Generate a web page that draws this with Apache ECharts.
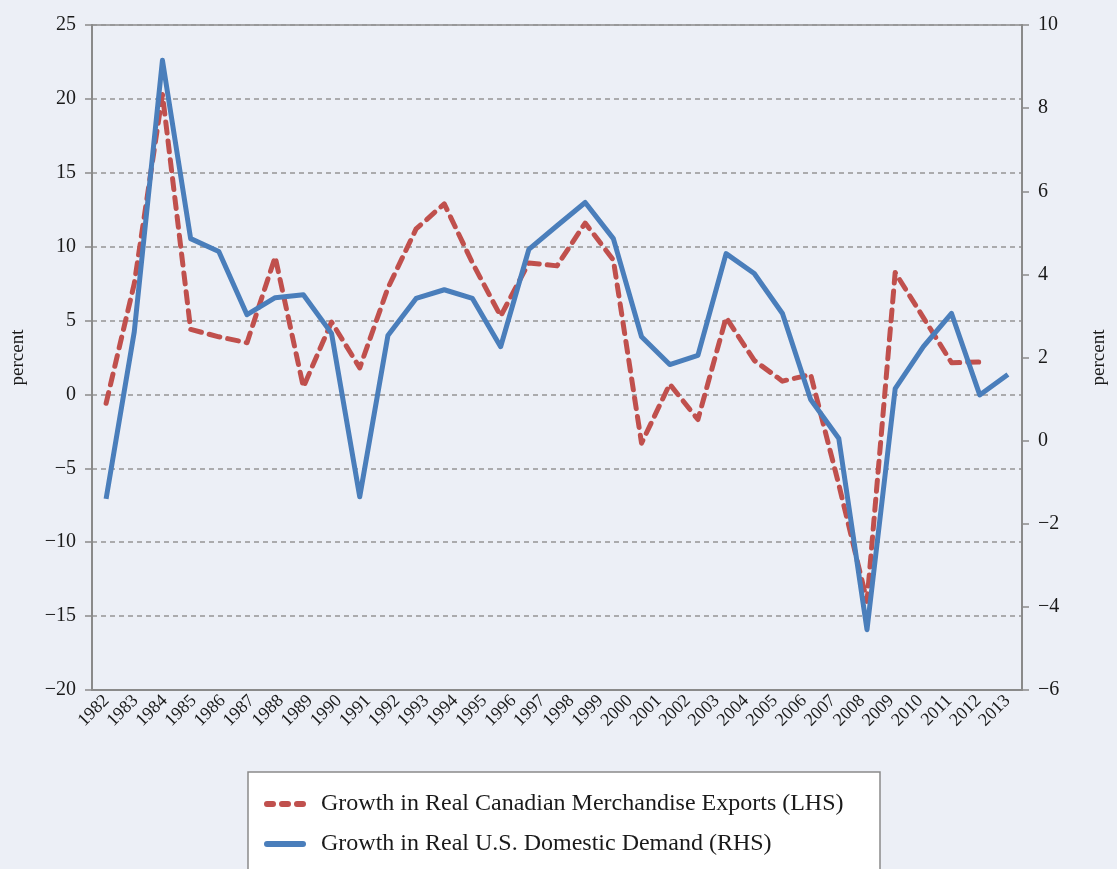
<!DOCTYPE html>
<html lang="en">
<head>
  <meta charset="UTF-8">
  <title>Canadian exports vs U.S. demand</title>
  <style>
    html, body { margin: 0; padding: 0; background: #ECEFF6; }
  </style>
</head>
<body>
  <div id="main" style="width: 1117px; height: 869px"></div>
  <script src="https://cdn.jsdelivr.net/npm/echarts@6/dist/echarts.min.js"></script>
  <script>
    // year labels shown along the bottom
    const years = ['1982', '1983', '1984', '1985', '1986', '1987', '1988', '1989', '1990', '1991',
      '1992', '1993', '1994', '1995', '1996', '1997', '1998', '1999', '2000', '2001', '2002',
      '2003', '2004', '2005', '2006', '2007', '2008', '2009', '2010', '2011', '2012', '2013']

    // the lines in the picture carry 33 evenly spaced points across the same frame
    const slots = ['s01', 's02', 's03', 's04', 's05', 's06', 's07', 's08', 's09', 's10', 's11',
      's12', 's13', 's14', 's15', 's16', 's17', 's18', 's19', 's20', 's21', 's22', 's23', 's24',
      's25', 's26', 's27', 's28', 's29', 's30', 's31', 's32', 's33']

    // LHS, percent
    const canExports = [-0.6, 7.5, 20.3, 4.4, 3.9, 3.5, 9.3, 0.5, 4.9, 1.8, 7.2, 11.2, 12.9,
      8.9, 5.3, 8.9, 8.7, 11.6, 9.1, -3.3, 0.7, -1.7, 5.2, 2.3, 0.9, 1.35, -6.1, -14.0,
      8.25, 5.2, 2.15, 2.2, null]

    // RHS, percent
    const usDemand = [-1.4, 2.62, 9.15, 4.86, 4.55, 3.03, 3.44, 3.51, 2.58, -1.35, 2.53, 3.42,
      3.63, 3.42, 2.26, 4.6, 5.17, 5.73, 4.86, 2.5, 1.83, 2.05, 4.5, 4.02, 3.06, 0.99, 0.05,
      -4.55, 1.25, 2.26, 3.06, 1.1, 1.59]

    const seriesNames = ['Growth in Real Canadian Merchandise Exports (LHS)',
      'Growth in Real U.S. Domestic Demand (RHS)']

    const RED = '#C0504D'
    const BLUE = '#4A7EBB'
    const font = '"Liberation Serif", "DejaVu Serif", serif'
    const minus = v => String(v).replace('-', '\u2212')

    // legend keys: three rounded dashes / one solid bar
    const dashIcon = 'path://M3,0H9A3,3 0 0 1 9,6H3A3,3 0 0 1 3,0Z' +
      'M18,0H24A3,3 0 0 1 24,6H18A3,3 0 0 1 18,0Z' +
      'M33,0H39A3,3 0 0 1 39,6H33A3,3 0 0 1 33,0Z'
    const barIcon = 'path://M3,0H39A3,3 0 0 1 39,6H3A3,3 0 0 1 3,0Z'

    const chart = echarts.init(document.getElementById('main'))
    chart.setOption({
      backgroundColor: '#ECEFF6',
      animation: false,
      textStyle: { fontFamily: font, color: '#1a1a1a' },
      grid: {
        left: 92, right: 94, top: 25, bottom: 179,
        show: true, borderColor: '#8a8a8a', borderWidth: 1.5
      },
      graphic: [{
        type: 'rect',
        z: 1,
        shape: { x: 248, y: 772, width: 632, height: 120 },
        style: { fill: '#ffffff', stroke: '#8a8a8a', lineWidth: 1.5 }
      }],
      legend: {
        z: 5,
        orient: 'vertical',
        left: 264, top: 790,
        height: 150,
        padding: 0,
        itemWidth: 42, itemHeight: 6, itemGap: 12,
        textStyle: {
          fontFamily: font, fontSize: 24, lineHeight: 28, color: '#1a1a1a',
          padding: [0, 0, 0, 10]
        },
        data: [
          { name: seriesNames[0], icon: dashIcon, itemStyle: { color: RED } },
          { name: seriesNames[1], icon: barIcon, itemStyle: { color: BLUE } }
        ]
      },
      xAxis: [{
        type: 'category',
        data: years,
        boundaryGap: true,
        axisLine: { onZero: false, lineStyle: { color: '#8a8a8a', width: 2 } },
        axisTick: { interval: 0, length: 8, lineStyle: { color: '#8a8a8a', width: 1.5 } },
        axisLabel: { interval: 0, rotate: 45, fontSize: 18, color: '#1a1a1a', margin: 8 }
      }, {
        type: 'category',
        data: slots,
        boundaryGap: true,
        show: false
      }],
      yAxis: [{
        type: 'value',
        min: -20, max: 25, interval: 5,
        name: 'percent',
        nameLocation: 'middle',
        nameGap: 64,
        nameTextStyle: { fontSize: 19, color: '#1a1a1a' },
        axisLine: { show: true, lineStyle: { color: '#8a8a8a', width: 2 } },
        axisTick: { show: true, length: 7, lineStyle: { color: '#8a8a8a', width: 1.5 } },
        axisLabel: { fontSize: 20, color: '#1a1a1a', margin: 16, formatter: minus },
        splitLine: { lineStyle: { color: '#959595', width: 1.6, type: [5, 4] } }
      }, {
        type: 'value',
        min: -6, max: 10, interval: 2,
        name: 'percent',
        nameLocation: 'middle',
        nameGap: 68,
        nameRotate: 90,
        nameTextStyle: { fontSize: 19, color: '#1a1a1a' },
        axisLine: { show: true, lineStyle: { color: '#8a8a8a', width: 2 } },
        axisTick: { show: true, length: 7, lineStyle: { color: '#8a8a8a', width: 1.5 } },
        axisLabel: { fontSize: 20, color: '#1a1a1a', margin: 16, formatter: minus },
        splitLine: { show: false }
      }],
      series: [{
        name: seriesNames[0],
        type: 'line',
        xAxisIndex: 1,
        yAxisIndex: 0,
        data: canExports,
        symbol: 'none',
        z: 3,
        itemStyle: { color: RED },
        lineStyle: { color: RED, width: 5, type: [11, 8], cap: 'round', join: 'round' }
      }, {
        name: seriesNames[1],
        type: 'line',
        xAxisIndex: 1,
        yAxisIndex: 1,
        data: usDemand,
        symbol: 'none',
        z: 4,
        itemStyle: { color: BLUE },
        lineStyle: { color: BLUE, width: 5, join: 'round' }
      }]
    })
  </script>
</body>
</html>
